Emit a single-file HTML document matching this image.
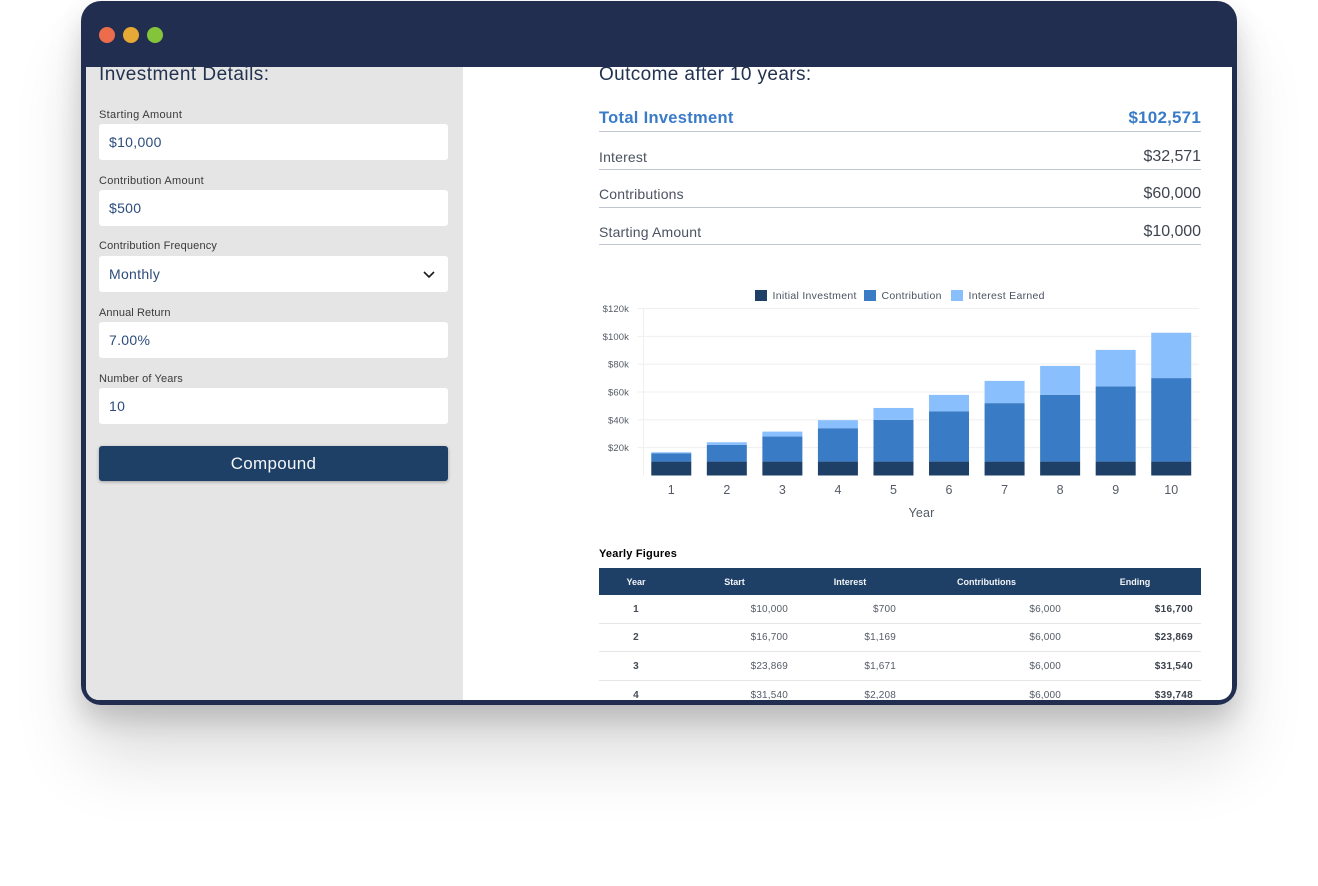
<!DOCTYPE html>
<html lang="en">
<head>
<meta charset="utf-8">
<title>Compound Interest Calculator</title>
<style>
html,body{margin:0;padding:0;background:#fff;}
body{width:1318px;height:886px;position:relative;overflow:hidden;font-family:"Liberation Sans",sans-serif;}
.win{position:absolute;left:81px;top:1px;width:1156px;height:704px;box-sizing:border-box;background:#212e50;border-radius:20px;box-shadow:0 55px 70px rgba(0,0,0,.12),0 14px 26px rgba(0,0,0,.14),0 20px 50px rgba(0,0,0,.05);}
.content{position:absolute;left:5px;top:66px;width:1146px;height:633px;background:#fff;overflow:hidden;border-radius:0 0 13px 13px;}
.side{position:absolute;left:0;top:0;width:377px;height:633px;background:#e5e5e5;}
.abs{position:absolute;white-space:nowrap;}
.dot{position:absolute;top:26px;width:16px;height:16px;border-radius:50%;}
.h{font-size:19px;line-height:22px;color:#22324f;letter-spacing:.47px;}
.lab{left:13px;font-size:11px;line-height:14px;color:#3a3a3a;letter-spacing:.2px;}
.inp{left:13px;width:349px;height:36px;background:#fff;border-radius:3px;box-sizing:border-box;padding-left:10px;font-size:14px;line-height:37px;color:#2b4c7c;letter-spacing:.3px;}
.btn{left:13px;top:379px;width:349px;height:35px;background:#1e4067;border-radius:3px;color:#f4f6f8;text-align:center;font-size:17px;line-height:35px;letter-spacing:.3px;box-shadow:0 1px 3px rgba(0,0,0,.3);}
.rl{left:513px;font-size:14px;line-height:18px;color:#4b5260;letter-spacing:.18px;}
.rv{right:31px;font-size:16px;line-height:20px;color:#3f4550;letter-spacing:-.05px;}
.rule{left:513px;width:602px;height:1px;background:#c0c6cf;}
table{position:absolute;left:513px;top:501px;width:602px;border-collapse:collapse;table-layout:fixed;font-size:10px;color:#555b66;}
th{background:#1e4067;color:#f2f4f7;font-size:9px;font-weight:bold;height:27px;padding:0;text-align:center;}
td{height:26.6px;padding:1px 8px 0 0;text-align:right;border-bottom:1px solid #e6e6e6;letter-spacing:.18px;}
td.c{text-align:center;padding:1px 0 0 0;font-weight:bold;color:#444a55;}
td.b{font-weight:bold;color:#3c424d;letter-spacing:.3px;}
svg text{font-family:"Liberation Sans",sans-serif;}
</style>
</head>
<body>
<div class="win">
  <div class="dot" style="left:18px;background:#ec6d4c"></div>
  <div class="dot" style="left:42px;background:#e6a935"></div>
  <div class="dot" style="left:66px;background:#84c43b"></div>
  <div class="content">
    <div class="side">
      <div class="abs h" style="left:13px;top:-3px">Investment Details:</div>
      <div class="abs lab" style="top:41px;letter-spacing:.33px">Starting Amount</div>
      <div class="abs inp" style="top:57px">$10,000</div>
      <div class="abs lab" style="top:107px;letter-spacing:.28px">Contribution Amount</div>
      <div class="abs inp" style="top:123px">$500</div>
      <div class="abs lab" style="top:172px;letter-spacing:.17px">Contribution Frequency</div>
      <div class="abs inp" style="top:189px">Monthly
        <svg style="position:absolute;left:323px;top:14px" width="14" height="10"><polyline points="2,2 7,7 12,2" fill="none" stroke="#1a1a1a" stroke-width="1.6"/></svg>
      </div>
      <div class="abs lab" style="top:239px;letter-spacing:.1px">Annual Return</div>
      <div class="abs inp" style="top:255px">7.00%</div>
      <div class="abs lab" style="top:305px;letter-spacing:.13px">Number of Years</div>
      <div class="abs inp" style="top:321px">10</div>
      <div class="abs btn">Compound</div>
    </div>

    <div class="abs h" style="left:513px;top:-3px;letter-spacing:.38px">Outcome after 10 years:</div>

    <div class="abs" style="left:513px;top:41px;font-size:16.5px;line-height:20px;font-weight:bold;color:#3a7bc8;letter-spacing:.3px">Total Investment</div>
    <div class="abs" style="right:31px;top:41px;font-size:17px;line-height:20px;font-weight:bold;color:#3a7bc8;letter-spacing:.2px">$102,571</div>
    <div class="abs rule" style="top:64px"></div>

    <div class="abs rl" style="top:81px">Interest</div>
    <div class="abs rv" style="top:80px">$32,571</div>
    <div class="abs rule" style="top:102px"></div>

    <div class="abs rl" style="top:118px">Contributions</div>
    <div class="abs rv" style="top:117px">$60,000</div>
    <div class="abs rule" style="top:140px"></div>

    <div class="abs rl" style="top:156px">Starting Amount</div>
    <div class="abs rv" style="top:155px">$10,000</div>
    <div class="abs rule" style="top:177px"></div>

    <svg id="chart" class="abs" style="left:-86px;top:-67px" width="1318" height="886"></svg>

    <div class="abs" style="left:513px;top:480px;font-size:11px;line-height:14px;font-weight:bold;color:#000;letter-spacing:.2px">Yearly Figures</div>
    <table>
      <colgroup><col style="width:74px"><col style="width:123px"><col style="width:108px"><col style="width:165px"><col style="width:132px"></colgroup>
      <thead><tr>
        <th>Year</th>
        <th>Start</th>
        <th>Interest</th>
        <th>Contributions</th>
        <th>Ending</th>
      </tr></thead>
      <tbody>
        <tr><td class="c">1</td><td>$10,000</td><td>$700</td><td>$6,000</td><td class="b">$16,700</td></tr>
        <tr><td class="c">2</td><td>$16,700</td><td>$1,169</td><td>$6,000</td><td class="b">$23,869</td></tr>
        <tr><td class="c">3</td><td>$23,869</td><td>$1,671</td><td>$6,000</td><td class="b">$31,540</td></tr>
        <tr><td class="c">4</td><td>$31,540</td><td>$2,208</td><td>$6,000</td><td class="b">$39,748</td></tr>
      </tbody>
    </table>
  </div>
</div>
<script>
var years = ['1','2','3','4','5','6','7','8','9','10'];
var initialInvestment = [10000,10000,10000,10000,10000,10000,10000,10000,10000,10000];
var contribution = [6000,12000,18000,24000,30000,36000,42000,48000,54000,60000];
var interestEarned = [700,1869,3540,5748,8530,11927,15982,20741,26253,32571];
var yTickValues = [20000,40000,60000,80000,100000,120000];
var yTickLabels = ['$20k','$40k','$60k','$80k','$100k','$120k'];
var legendLabels = ['Initial Investment','Contribution','Interest Earned'];

var NS = 'http://www.w3.org/2000/svg';
var svg = document.getElementById('chart');
var plot = {left:643.5, right:1199, top:308.5, bottom:475.5, max:120000};
var colors = ['#1e4067','#3a7bc5','#89bffc'];
function yScale(v){ return plot.bottom - (v / plot.max) * (plot.bottom - plot.top); }
function xBand(){ return (plot.right - plot.left) / years.length; }
function xScale(i){ return plot.left + xBand() * (i + 0.5); }
function mk(tag, attrs, text){
  var el = document.createElementNS(NS, tag);
  for (var k in attrs) el.setAttribute(k, attrs[k]);
  if (text !== undefined) el.textContent = text;
  svg.appendChild(el);
  return el;
}
var axisLine = mk('line', {x1:plot.left, x2:plot.left, y1:plot.top, y2:plot.bottom, stroke:'#efefef', 'stroke-width':1});


yTickValues.forEach(function(v, i){
  var y = yScale(v);
  var g = mk('line', {x1:plot.left - 6, x2:plot.right, y1:y, y2:y, stroke:'#efefef', 'stroke-width':1});
  
  
  var t = mk('text', {x:629, y:y + 3.5, 'text-anchor':'end', 'font-size':9.5, fill:'#555b66', 'letter-spacing':0.1}, yTickLabels[i]);
  
  
});
var stackSeries = [initialInvestment, contribution, interestEarned];
var barWidth = 40;
years.forEach(function(label, i){
  var base = 0;
  stackSeries.forEach(function(series, s){
    var top = base + series[i];
    var r = mk('rect', {x:xScale(i) - barWidth / 2, y:yScale(top), width:barWidth, height:yScale(base) - yScale(top), fill:colors[s]});
    
    
    base = top;
  });
  var t = mk('text', {x:xScale(i), y:494, 'text-anchor':'middle', 'font-size':12.5, fill:'#555b66'}, label);
  
  
});
var xTitle = mk('text', {x:921.5, y:517, 'text-anchor':'middle', 'font-size':12.5, fill:'#555b66', 'letter-spacing':0.2}, 'Year');


var legendX = [755, 864, 951];
legendLabels.forEach(function(label, i){
  var sw = mk('rect', {x:legendX[i], y:290, width:12, height:11, fill:colors[i]});
  
  
  var t = mk('text', {x:legendX[i] + 17.5, y:299, 'font-size':10.5, fill:'#4b5260', 'letter-spacing':0.3}, label);
  
  
});
</script>
</body>
</html>
